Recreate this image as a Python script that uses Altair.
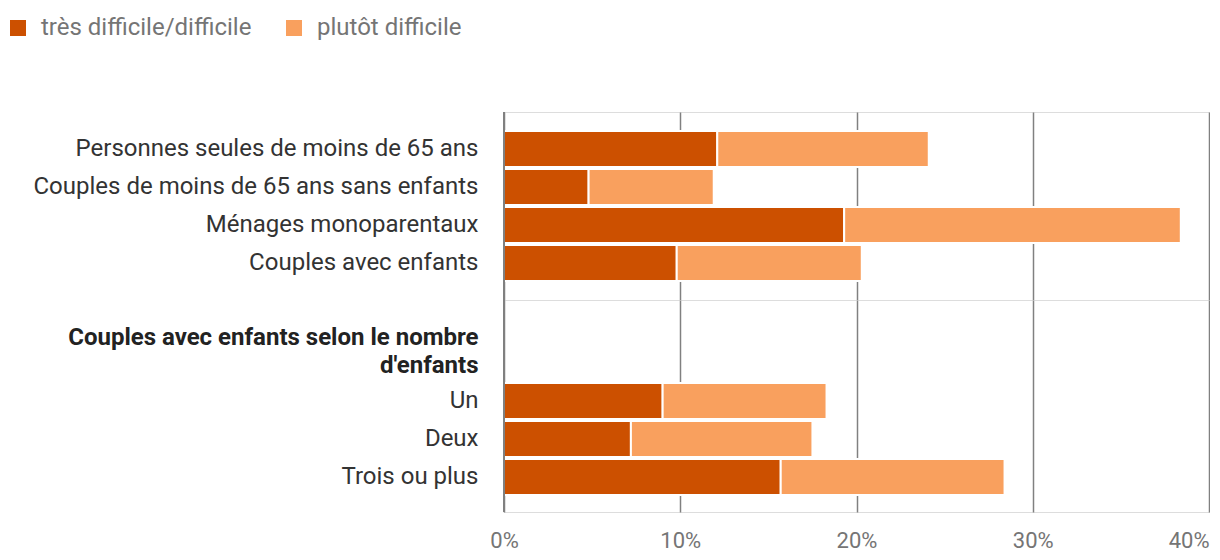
import altair as alt
import pandas as pd

# ---- data ----
series = ["très difficile/difficile", "plutôt difficile"]
colors = ["#cc5000", "#f9a05e"]

top_categories = [
    "Personnes seules de moins de 65 ans",
    "Couples de moins de 65 ans sans enfants",
    "Ménages monoparentaux",
    "Couples avec enfants",
]
top_dark = [12.1, 4.8, 19.3, 9.8]
top_light = [12.0, 7.1, 19.1, 10.5]

header = ["Couples avec enfants selon le nombre", "d'enfants"]
bottom_categories = ["Un", "Deux", "Trois ou plus"]
bottom_dark = [9.0, 7.2, 15.7]
bottom_light = [9.3, 10.3, 12.7]

x_ticks = [0, 10, 20, 30, 40]

FONT = "Roboto"
LABEL_SIZE = 24
TICK_SIZE = 22
GRID = "#808080"


def frame(cats, dark, light):
    rows = []
    for c, d, l in zip(cats, dark, light):
        rows.append({"cat": c, "serie": series[0], "ord": 0, "val": d})
        rows.append({"cat": c, "serie": series[1], "ord": 1, "val": l})
    return pd.DataFrame(rows)


color = alt.Color(
    "serie:N",
    scale=alt.Scale(domain=series, range=colors),
    legend=alt.Legend(
        title=None,
        orient="none",
        legendX=-498,
        legendY=-96,
        padding=0,
        direction="horizontal",
        symbolType="square",
        symbolSize=256,
        symbolStrokeWidth=0,
        labelFont=FONT,
        labelFontSize=LABEL_SIZE,
        labelColor="#757575",
        labelOffset=11,
        labelLimit=500,
        columnPadding=30,
    ),
)


def panel(df, domain, height, pad_outer, align, xaxis, yaxis):
    base = alt.Chart(df)
    bars = base.mark_bar(stroke="white", strokeWidth=2).encode(
        x=alt.X(
            "val:Q",
            stack="zero",
            scale=alt.Scale(domain=[0, 40], nice=False),
            axis=xaxis,
        ),
        y=alt.Y(
            "cat:N",
            scale=alt.Scale(
                domain=domain, paddingInner=2 / 38, paddingOuter=pad_outer, align=align
            ),
            axis=yaxis,
        ),
        color=color,
        order=alt.Order("ord:Q"),
    )
    zero = base.mark_rule(color=GRID, strokeWidth=1.5).encode(x=alt.datum(0))
    return alt.layer(bars, zero).properties(width=705, height=height)


grid_axis = dict(
    values=x_ticks,
    grid=True,
    gridColor=GRID,
    gridWidth=1.5,
    ticks=False,
    domain=False,
    title=None,
)

top_x = alt.Axis(labels=False, orient="top", minExtent=0, maxExtent=0, **grid_axis)
bottom_x = alt.Axis(
    labelExpr="datum.value + '%'",
    labelFont=FONT,
    labelFontSize=TICK_SIZE,
    labelColor="#757575",
    labelPadding=18,
    labelAlign=alt.condition("datum.value == 40", alt.value("right"), alt.value("center")),
    **grid_axis,
)

y_common = dict(
    labelFont=FONT,
    labelFontSize=LABEL_SIZE,
    labelColor="#333333",
    labelPadding=26,
    labelLimit=700,
    ticks=False,
    domain=False,
    grid=False,
)

top_y = alt.Axis(title=None, **y_common)
bottom_y = alt.Axis(
    title=header,
    titleFont=FONT,
    titleFontSize=LABEL_SIZE,
    titleFontWeight="bold",
    titleColor="#222222",
    titleAngle=0,
    titleAlign="right",
    titleBaseline="alphabetic",
    titleX=-26,
    titleY=44,
    titleLineHeight=28,
    **y_common,
)

top = panel(
    frame(top_categories, top_dark, top_light), top_categories, 188, 0.5, 0.5, top_x, top_y
)
bottom = panel(
    frame(bottom_categories, bottom_dark, bottom_light),
    [" "] + bottom_categories,
    212,
    0.816,
    0.726,
    bottom_x,
    bottom_y,
)

chart = (
    alt.vconcat(top, bottom, spacing=0, bounds="flush")
    .resolve_scale(x="shared", y="independent", color="shared")
    .configure_view(stroke=None)
    .configure(font=FONT, padding={"left": -2, "top": 8, "right": 0, "bottom": 0})
)

chart.save("out.html", embed_options={"renderer": "svg", "actions": False})
